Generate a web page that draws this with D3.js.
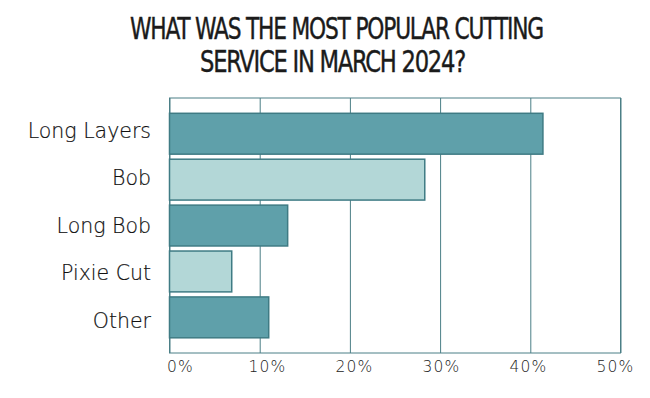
<!DOCTYPE html>
<html>
<head>
<meta charset="utf-8">
<script src="https://cdn.jsdelivr.net/npm/d3@7"></script>
<style>
  body { margin: 0; background: #fff; }
  svg { display: block; }
</style>
</head>
<body>
<div id="chart"></div>
<script>
// Chart data
const categories = ["Long Layers", "Bob", "Long Bob", "Pixie Cut", "Other"];
const shares = [41.4, 28.3, 13.1, 6.9, 11.0];
const shades = ["dark", "light", "dark", "light", "dark"];
const tickValues = [0, 10, 20, 30, 40, 50];
const titleLines = ["WHAT WAS THE MOST POPULAR CUTTING", "SERVICE IN MARCH 2024?"];

const width = 650;
const height = 398;
const plot = { left: 169.5, right: 620.5, top: 98, bottom: 353 };

const svg = d3.select("#chart")
  .append("svg")
  .attr("width", width)
  .attr("height", height);

// Scales
const x = d3.scaleLinear().domain([0, 50]).range([plot.left, plot.right]);
const y = d3.scaleBand().domain(categories).range([113.3, 337.8]).paddingInner(0.11);
// labels in the reference sit on their own spacing
const xLabel = d3.scaleLinear().domain([0, 50]).range([180, 615]);
const yLabel = d3.scalePoint().domain(categories).range([138, 327.5]);

const fill = { dark: "#5fa0aa", light: "#b3d7d7" };
const lineColor = "#4b7f86";

// Title: condensed, then squeezed to the reference line widths
const titleX = [336.5, 332.5];
const titleY = [39.5, 72];
const titleW = [413, 265];

svg.append("g")
  .selectAll("text")
  .data(titleLines)
  .enter()
  .append("text")
  .attr("x", (d, i) => titleX[i])
  .attr("y", (d, i) => titleY[i])
  .attr("text-anchor", "middle")
  .attr("font-family", "'Liberation Sans Narrow', 'DejaVu Sans Condensed', sans-serif")
  .attr("font-size", 30)
  .attr("letter-spacing", -1.5)
  .attr("stroke", "#1b1b1b")
  .attr("stroke-width", 0.4)
  .attr("fill", "#1b1b1b")
  .text(d => d)
  .each(function(d, i) {
    const k = titleW[i] / this.getComputedTextLength();
    d3.select(this).attr("transform", `translate(${titleX[i] * (1 - k)},0) scale(${k},1)`);
  });

// Gridlines
svg.append("g")
  .attr("transform", `translate(0,${plot.bottom})`)
  .call(d3.axisBottom(x).tickValues(tickValues).tickSize(-(plot.bottom - plot.top)).tickFormat(""))
  .call(g => g.select(".domain").remove())
  .call(g => g.selectAll(".tick line").attr("stroke", lineColor).attr("stroke-width", 1));

// Plot frame
svg.append("rect")
  .attr("x", plot.left)
  .attr("y", plot.top)
  .attr("width", plot.right - plot.left)
  .attr("height", plot.bottom - plot.top)
  .attr("fill", "none")
  .attr("stroke", lineColor)
  .attr("stroke-width", 1);

// Bars
svg.append("g")
  .selectAll("rect")
  .data(categories)
  .enter()
  .append("rect")
  .attr("x", x(0))
  .attr("y", d => y(d))
  .attr("width", (d, i) => x(shares[i]) - x(0))
  .attr("height", y.bandwidth())
  .attr("fill", (d, i) => fill[shades[i]])
  .attr("stroke", "#3f7b84")
  .attr("stroke-width", 1.5);

// Category labels
svg.append("g")
  .selectAll("text")
  .data(categories)
  .enter()
  .append("text")
  .attr("x", 151)
  .attr("y", d => yLabel(d))
  .attr("text-anchor", "end")
  .attr("font-family", "'DejaVu Sans', sans-serif")
  .attr("font-weight", 200)
  .attr("font-size", 20.5)
  .attr("stroke", "#111")
  .attr("stroke-width", 0.2)
  .attr("fill", "#111")
  .text(d => d);

// Tick labels
svg.append("g")
  .attr("transform", "translate(0,372.3)")
  .call(d3.axisBottom(xLabel).tickValues(tickValues).tickSize(0).tickPadding(0).tickFormat(d => d + "%"))
  .call(g => g.select(".domain").remove())
  .call(g => g.selectAll(".tick text")
    .attr("dy", 0)
    .attr("font-family", "'DejaVu Sans', sans-serif")
    .attr("font-weight", 200)
    .attr("font-size", 15.5)
    .attr("letter-spacing", 1.2)
    .attr("fill", "#222"));
</script>
</body>
</html>
